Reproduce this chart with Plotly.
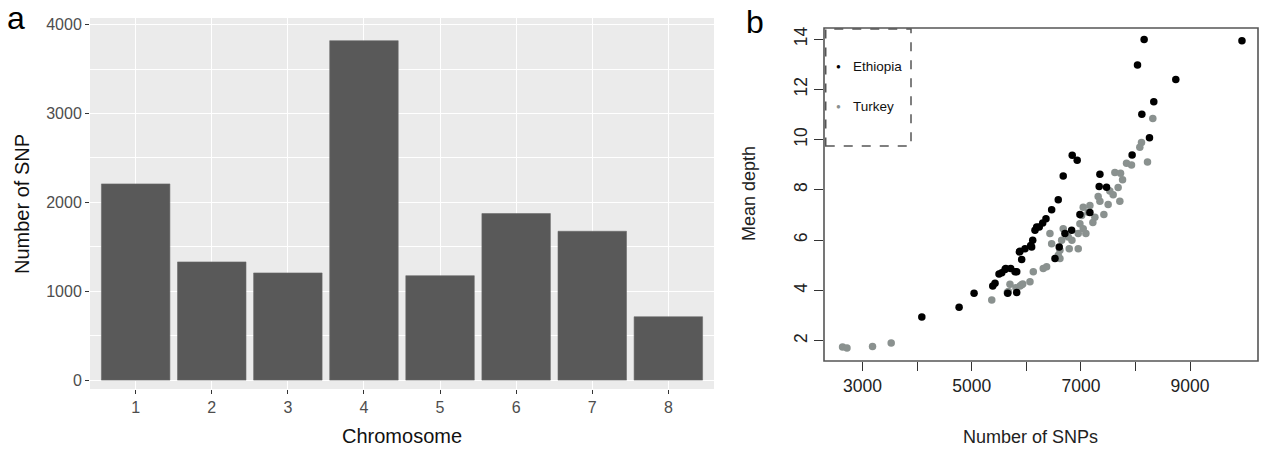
import plotly.graph_objects as go

# ---------------- data ----------------
chromosomes = ["1", "2", "3", "4", "5", "6", "7", "8"]
snp_counts = [2208, 1330, 1206, 3820, 1175, 1874, 1675, 713]

eth_snps = [4086, 4769, 5043, 5385, 5427, 5500, 5550, 5623, 5714, 5824, 5915, 5872,
            5976, 6080, 6117, 6159, 6190, 5659, 5824, 8158, 9950, 8037, 8738, 8335,
            8116, 8256, 7938, 6841, 6932, 6676, 7348, 7335, 7470, 6585, 6464, 6982,
            6360, 6300, 6237, 6830, 6707, 6098, 5884, 6525, 6603, 5793, 5610, 7165]
eth_depth = [2.94, 3.33, 3.89, 4.17, 4.28, 4.65, 4.70, 4.87, 4.87, 4.74, 5.23, 5.53,
             5.66, 5.79, 5.99, 6.39, 6.52, 3.89, 3.92, 13.98, 13.93, 12.97, 12.39, 11.51,
             11.01, 10.07, 9.39, 9.38, 9.18, 8.55, 8.62, 8.13, 8.10, 7.61, 7.21, 7.02,
             6.85, 6.68, 6.52, 6.39, 6.26, 5.73, 5.56, 5.27, 5.73, 4.74, 4.83, 7.10]

tur_snps = [2634, 2715, 3183, 3525, 5367, 5701, 5652, 5884, 5934, 6067, 6128, 8317,
            8110, 8079, 7836, 7927, 8220, 7622, 7726, 7763, 7530, 7682, 7316, 7348,
            7591, 7713, 7499, 7165, 7042, 7256, 7134, 7013, 6982, 7042, 6951, 7091,
            6676, 6768, 6647, 6433, 6464, 6616, 6786, 6951, 6585, 6616, 6372, 6310,
            5810, 7421, 7219, 6835, 5671, 5915]
tur_depth = [1.75, 1.71, 1.77, 1.91, 3.62, 4.24, 3.92, 4.17, 4.25, 4.34, 4.74, 10.84,
             9.88, 9.70, 9.06, 8.99, 9.11, 8.69, 8.66, 8.40, 7.95, 8.09, 7.74, 7.55,
             7.81, 7.55, 7.42, 7.38, 7.31, 6.91, 7.11, 6.98, 6.65, 6.45, 6.26, 6.26,
             6.45, 6.12, 5.99, 6.26, 5.86, 5.60, 5.66, 5.66, 5.40, 5.27, 4.94, 4.87,
             4.10, 7.02, 6.70, 5.99, 3.96, 4.22]

bar_yticks = [0, 1000, 2000, 3000, 4000]
sc_xticks = [3000, 4000, 5000, 6000, 7000, 8000, 9000]
sc_xticktext = ["3000", "", "5000", "", "7000", "", "9000"]
sc_yticks = [2, 4, 6, 8, 10, 12, 14]

W, H = 1261, 452
FONT = "Liberation Sans, Arial, Helvetica, sans-serif"
BLACK = "#000000"
GRAY = "#8a918f"

fig = go.Figure()

# ---------------- panel a: bar chart ----------------
fig.add_trace(go.Bar(
    x=[int(c) for c in chromosomes], y=snp_counts, width=0.9,
    marker=dict(color="#595959", line=dict(color="#6a6a6a", width=0.6)),
    xaxis="x", yaxis="y", showlegend=False,
))

# ---------------- panel b: scatter ----------------
fig.add_trace(go.Scatter(
    x=tur_snps, y=tur_depth, mode="markers", name="Turkey",
    marker=dict(color=GRAY, size=7.5, line=dict(width=0)),
    xaxis="x2", yaxis="y2", showlegend=False,
))
fig.add_trace(go.Scatter(
    x=eth_snps, y=eth_depth, mode="markers", name="Ethiopia",
    marker=dict(color=BLACK, size=7.5, line=dict(width=0)),
    xaxis="x2", yaxis="y2", showlegend=False,
))

def px_x(p):
    return p / W

def px_y(p):
    return 1 - p / H

fig.update_layout(
    width=W, height=H,
    margin=dict(l=0, r=0, t=0, b=0, autoexpand=False),
    paper_bgcolor="white",
    plot_bgcolor="white",
    font=dict(family=FONT, color="#222"),
    bargap=0.1,
    xaxis=dict(
        domain=[px_x(90), px_x(714)], range=[0.4, 8.6],
        tickvals=[1, 2, 3, 4, 5, 6, 7, 8], ticktext=chromosomes,
        showgrid=True, gridcolor="white", gridwidth=1.3,
        zeroline=False, showline=False, automargin=False,
        ticks="outside", ticklen=4, tickwidth=1.1, tickcolor="#333333",
        tickfont=dict(size=16, color="#4d4d4d", family=FONT),
        anchor="y",
    ),
    yaxis=dict(
        domain=[px_y(389), px_y(18)], range=[-100, 4075],
        tickvals=bar_yticks,
        showgrid=True, gridcolor="white", gridwidth=1.3,
        minor=dict(tickvals=[500, 1500, 2500, 3500], showgrid=True,
                   gridcolor="white", gridwidth=0.6),
        zeroline=False, showline=False, automargin=False,
        ticks="outside", ticklen=4, tickwidth=1.1, tickcolor="#333333",
        tickfont=dict(size=16, color="#4d4d4d", family=FONT),
        anchor="x",
    ),
    xaxis2=dict(
        domain=[px_x(824), px_x(1258)], range=[2294, 10244],
        tickvals=sc_xticks, ticktext=sc_xticktext,
        showgrid=False, zeroline=False, showline=False, automargin=False,
        ticks="outside", ticklen=9, tickwidth=1.3, tickcolor="#333",
        tickfont=dict(size=17.5, color="#222", family=FONT),
        anchor="y2",
    ),
    yaxis2=dict(
        domain=[px_y(361), px_y(28)], range=[1.19, 14.44],
        tickvals=sc_yticks, tickangle=-90,
        showgrid=False, zeroline=False, showline=False, automargin=False,
        ticks="outside", ticklen=9, tickwidth=1.3, tickcolor="#333",
        tickfont=dict(size=17.5, color="#222", family=FONT),
        anchor="x2",
    ),
)

# panel a background
fig.add_shape(type="rect", xref="x domain", yref="y domain", x0=0, x1=1, y0=0, y1=1,
              fillcolor="#ebebeb", line=dict(width=0), layer="below")

# panel b frame
fig.add_shape(type="rect", xref="x2 domain", yref="y2 domain", x0=0, x1=1, y0=0, y1=1,
              fillcolor="rgba(0,0,0,0)", line=dict(color="#555555", width=1.6), layer="below")
# legend box (dashed)
fig.add_shape(type="rect", xref="x2 domain", yref="y2 domain",
              x0=0.004, x1=(911 - 824) / 434, y0=(361 - 146) / 333, y1=0.997,
              fillcolor="white", line=dict(color="#555555", width=1.5, dash="dash"),
              layer="above")

ann = []
# legend entries
ann.append(dict(xref="paper", yref="paper", x=px_x(838), y=px_y(67), text="●",
                showarrow=False, font=dict(size=8, color=BLACK, family=FONT),
                xanchor="center", yanchor="middle"))
ann.append(dict(xref="paper", yref="paper", x=px_x(851), y=px_y(67), text="Ethiopia",
                showarrow=False, font=dict(size=13.5, color="#111", family=FONT),
                xanchor="left", yanchor="middle"))
ann.append(dict(xref="paper", yref="paper", x=px_x(838), y=px_y(106), text="●",
                showarrow=False, font=dict(size=8, color=GRAY, family=FONT),
                xanchor="center", yanchor="middle"))
ann.append(dict(xref="paper", yref="paper", x=px_x(851), y=px_y(106), text="Turkey",
                showarrow=False, font=dict(size=13.5, color="#111", family=FONT),
                xanchor="left", yanchor="middle"))
# axis titles
ann.append(dict(xref="paper", yref="paper", x=px_x(402), y=px_y(436), text="Chromosome",
                showarrow=False, font=dict(size=20, color="#111", family=FONT),
                xanchor="center", yanchor="middle"))
ann.append(dict(xref="paper", yref="paper", x=px_x(22), y=px_y(204), text="Number of SNP",
                showarrow=False, textangle=-90, font=dict(size=20, color="#111", family=FONT),
                xanchor="center", yanchor="middle"))
ann.append(dict(xref="paper", yref="paper", x=px_x(1030), y=px_y(437), text="Number of SNPs",
                showarrow=False, font=dict(size=18, color="#222", family=FONT),
                xanchor="center", yanchor="middle"))
ann.append(dict(xref="paper", yref="paper", x=px_x(749), y=px_y(194), text="Mean depth",
                showarrow=False, textangle=-90, font=dict(size=18, color="#222", family=FONT),
                xanchor="center", yanchor="middle"))
# panel labels
ann.append(dict(xref="paper", yref="paper", x=px_x(16), y=px_y(18), text="a",
                showarrow=False, font=dict(size=32, color="#000", family=FONT),
                xanchor="center", yanchor="middle"))
ann.append(dict(xref="paper", yref="paper", x=px_x(755), y=px_y(22), text="b",
                showarrow=False, font=dict(size=32, color="#000", family=FONT),
                xanchor="center", yanchor="middle"))
fig.update_layout(annotations=ann)

fig.write_html(
    "out.html",
    config={"displayModeBar": False},
    post_script="document.body.style.margin='0';document.body.style.padding='0';"
                "document.body.style.overflow='hidden';",
)
